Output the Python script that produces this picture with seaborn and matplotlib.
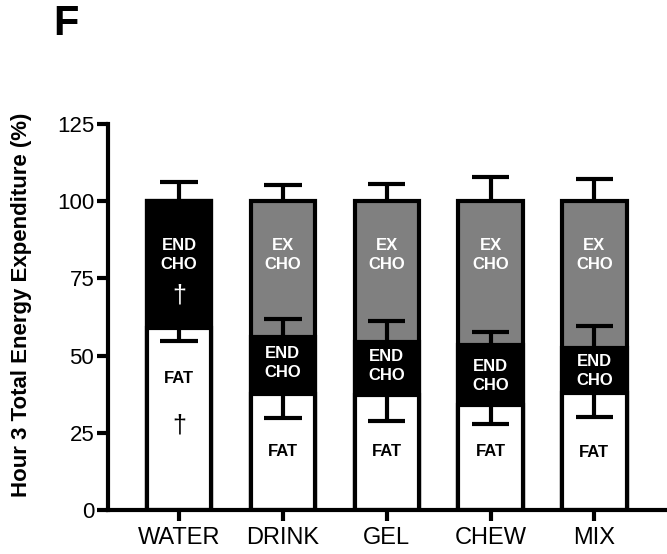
import matplotlib
matplotlib.use("Agg")
import matplotlib.pyplot as plt
import seaborn as sns
import pandas as pd
import numpy as np

sns.set_theme(style="ticks")
plt.rcParams["font.family"] = ["Liberation Sans", "DejaVu Sans"]
plt.rcParams.update({"text.color": "black", "axes.labelcolor": "black",
                     "xtick.color": "black", "ytick.color": "black",
                     "axes.edgecolor": "black"})

# Share of hour-3 total energy expenditure (%), mean and SD per condition
categories = ["WATER", "DRINK", "GEL", "CHEW", "MIX"]
fat = [59.0, 37.5, 37.3, 34.0, 37.8]
end_cho = [41.0, 18.5, 17.0, 19.4, 14.7]
ex_cho = [0.0, 44.0, 45.7, 46.6, 47.5]
fat_sd = [4.4, 7.6, 8.4, 6.1, 7.7]
end_cho_sd = [6.1, 5.8, 7.0, 4.2, 7.1]
ex_cho_sd = [0.0, 5.2, 5.5, 7.7, 7.0]
y_ticks = [0, 25, 50, 75, 100, 125]

df = pd.DataFrame({"condition": categories, "fat": fat, "end": end_cho, "ex": ex_cho})
df["fat_top"] = df["fat"]
df["end_top"] = df["fat"] + df["end"]
df["ex_top"] = df["end_top"] + df["ex"]

fig = plt.figure(figsize=(6.67, 5.54), dpi=100)
ax = fig.add_axes([0.162, 0.0794, 0.838, 0.697])

lw = 3.0
bw = 0.62
# stacked layers drawn back to front: exogenous CHO, endogenous CHO, fat
sns.barplot(data=df, x="condition", y="ex_top", color="#808080", edgecolor="black",
            linewidth=lw, width=bw, saturation=1, ax=ax, errorbar=None)
sns.barplot(data=df, x="condition", y="end_top", color="black", edgecolor="black",
            linewidth=lw, width=bw, saturation=1, ax=ax, errorbar=None)
sns.barplot(data=df, x="condition", y="fat_top", color="white", edgecolor="black",
            linewidth=lw, width=bw, saturation=1, ax=ax, errorbar=None)

cap = 0.18
x = np.arange(len(categories))


def sd_bar(xi, base, sd, direction):
    tip = base + direction * sd
    ax.vlines(xi, base, tip, color="black", lw=lw, zorder=5)
    ax.hlines(tip, xi - cap, xi + cap, color="black", lw=lw, zorder=5)


for i in range(len(categories)):
    sd_bar(x[i], df["fat_top"][i], fat_sd[i], -1)
    sd_bar(x[i], df["end_top"][i], end_cho_sd[i], +1)
    if ex_cho[i] > 0:
        sd_bar(x[i], df["ex_top"][i], ex_cho_sd[i], +1)

# segment labels
lab_kw = dict(ha="center", va="center", fontsize=12, fontweight="bold", linespacing=1.35, zorder=6)
ax.text(0, 82.5, "END\nCHO", color="white", **lab_kw)
ax.text(0, 69.5, "†", color="white", ha="center", va="center", fontsize=18, zorder=6)
ax.text(0, 42.5, "FAT", color="black", **lab_kw)
ax.text(0, 27.5, "†", color="black", ha="center", va="center", fontsize=18, zorder=6)
end_y = [None, 47.5, 46.5, 43.5, 45.0]
fat_y = [None, 19.0, 19.0, 19.0, 18.5]
for i in range(1, len(categories)):
    ax.text(i, 82.5, "EX\nCHO", color="white", **lab_kw)
    ax.text(i, end_y[i], "END\nCHO", color="white", **lab_kw)
    ax.text(i, fat_y[i], "FAT", color="black", **lab_kw)

ax.set_xlim(-0.684, 4.70)
ax.set_ylim(0, 125)
ax.set_yticks(y_ticks)
ax.set_xlabel("")
ax.set_ylabel("Hour 3 Total Energy Expenditure (%)", fontsize=16, fontweight="bold")
ax.yaxis.set_label_coords(-0.136, 0.532)
sns.despine(ax=ax)
for s in ["left", "bottom"]:
    ax.spines[s].set_linewidth(lw)
ax.tick_params(axis="y", length=8, width=lw, labelsize=16, pad=2)
ax.tick_params(axis="x", length=8, width=lw, labelsize=17, pad=4)

fig.text(0.099, 0.957, "F", fontsize=30, fontweight="bold", ha="center", va="center")

fig.savefig("out.png", dpi=100)
